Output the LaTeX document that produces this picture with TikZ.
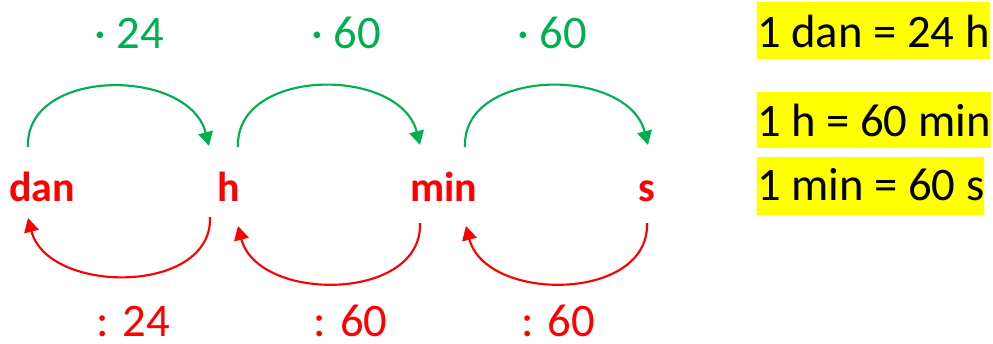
\documentclass[tikz,border=0pt]{standalone}
\usepackage{fontspec}
\setmainfont{Carlito}
\usetikzlibrary{arrows.meta}
\definecolor{mygreen}{RGB}{0,176,80}
\definecolor{myred}{RGB}{255,0,0}
\definecolor{myyellow}{RGB}{255,255,0}
\tikzset{
  unitlbl/.style={text=myred, font=\fontsize{31.5}{36}\selectfont\bfseries, anchor=base, inner sep=0pt},
  mullbl/.style={text=mygreen, font=\fontsize{35}{40}\selectfont, anchor=base, inner sep=0pt},
  divlbl/.style={text=myred, font=\fontsize{35}{40}\selectfont, anchor=base, inner sep=0pt},
  eqbox/.style={fill=myyellow, inner sep=0pt, anchor=base west, font=\fontsize{35}{40}\selectfont},
  garrow/.style={draw=mygreen, line width=1.6pt, -{Triangle[length=10.5pt,width=11pt]}},
  rarrow/.style={draw=myred, line width=1.6pt, -{Triangle[length=10.5pt,width=11pt]}}
}
\begin{document}
\begin{tikzpicture}[x=0.75pt,y=-0.75pt]
\useasboundingbox (0,0) rectangle (993,343);
% unit nodes
\node[unitlbl] (dan) at (42,201) {dan};
\node[unitlbl] (h) at (228.5,201) {h};
\node[unitlbl] (min) at (444,201) {min};
\node[unitlbl] (s) at (646.5,201) {s};
% factor labels
\node[mullbl] (m1) at (129,48) {· 24};
\node[mullbl] (m2) at (346.5,48) {· 60};
\node[mullbl] (m3) at (552,48) {· 60};
\node[divlbl] (d1) at (133,336) {: 24};
\node[divlbl] (d2) at (350.5,336) {: 60};
\node[divlbl] (d3) at (558,336) {: 60};
% green arcs (multiply)
\draw[garrow] ([shift={(-14,-54)}]dan.base) .. controls +(-3,-80) and +(-20,-79) .. ([shift={(-19.5,-55)}]h.base);
\draw[garrow] ([shift={(9.5,-54)}]h.base) .. controls +(-3,-80) and +(-20,-79) .. ([shift={(-24,-56)}]min.base);
\draw[garrow] ([shift={(21,-54)}]min.base) .. controls +(-3,-80) and +(-20,-79) .. ([shift={(1.5,-56)}]s.base);
% red arcs (divide)
\draw[rarrow] ([shift={(-18.5,16)}]h.base) .. controls +(3,78) and +(20,77) .. ([shift={(-14,17)}]dan.base);
\draw[rarrow] ([shift={(-24,22)}]min.base) .. controls +(3,79) and +(20,77) .. ([shift={(9.5,25)}]h.base);
\draw[rarrow] ([shift={(0.5,22)}]s.base) .. controls +(3,79) and +(20,77) .. ([shift={(22,25)}]min.base);
% equality boxes
\node[eqbox, text height=33.75pt, text depth=9pt] (e1) at (757,47) {1 dan = 24 h};
\node[eqbox, text height=33pt, text depth=9pt] (e2) at (757,136) {1 h = 60 min};
\node[eqbox, text height=32.25pt, text depth=11.25pt] (e3) at (757,200) {1 min = 60 s};
\end{tikzpicture}
\end{document}
